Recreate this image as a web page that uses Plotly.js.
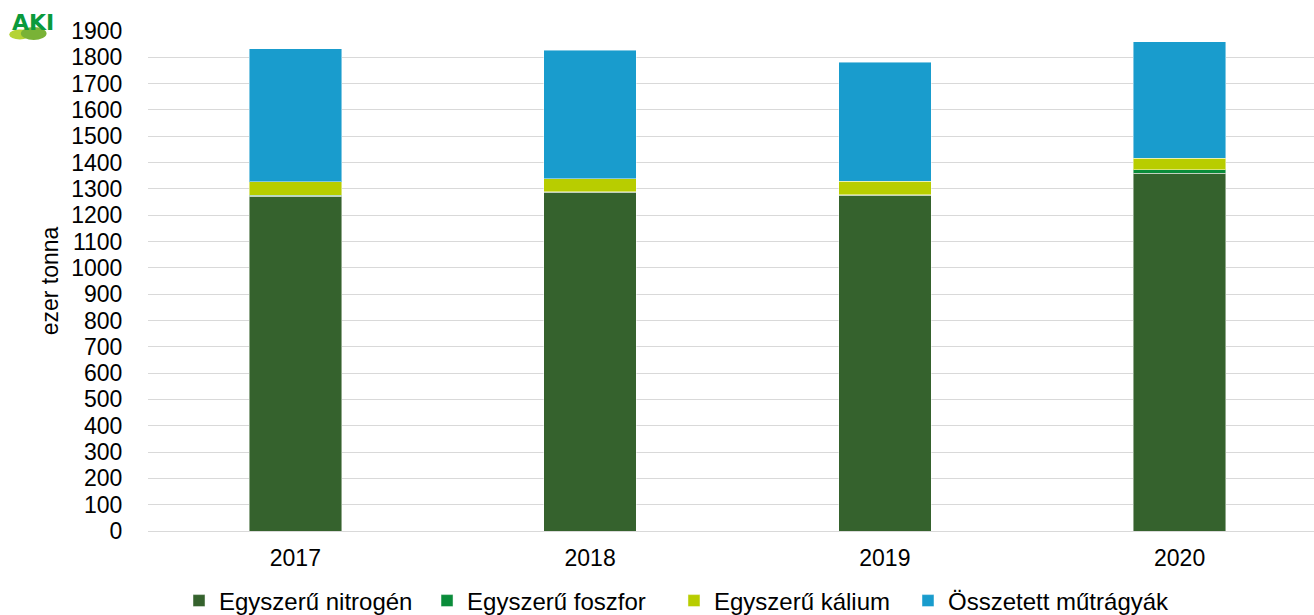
<!DOCTYPE html>
<html>
<head>
<meta charset="utf-8">
<script src="https://cdn.plot.ly/plotly-3.0.1.min.js"></script>
<style>html,body{margin:0;padding:0;background:#fff;overflow:hidden}#chart{width:1314px;height:615px}</style>
</head>
<body>
<div id="chart"></div>
<script>
const years = ['2017', '2018', '2019', '2020'];
const nitrogen = [1273, 1287, 1275, 1360];
const phosphorus = [3, 2, 3, 13];
const potassium = [52, 49, 52, 44];
const compound = [504, 489, 452, 442];
const seriesNames = ['Egyszerű nitrogén', 'Egyszerű foszfor', 'Egyszerű kálium', 'Összetett műtrágyák'];
const seriesColors = ['#35622d', '#0a8c3a', '#b8cd00', '#199ccd'];
const yTicks = [0,100,200,300,400,500,600,700,800,900,1000,1100,1200,1300,1400,1500,1600,1700,1800,1900];

const seriesValues = [nitrogen, phosphorus, potassium, compound];
const legendIds = ['legend', 'legend2', 'legend3', 'legend4'];
const legendX = [0.0266, 0.2393, 0.4511, 0.6518];

const traces = seriesValues.map((vals, i) => ({
  type: 'bar',
  x: years,
  y: vals,
  name: seriesNames[i],
  legend: legendIds[i],
  marker: {color: seriesColors[i], line: {color: 'rgba(255,255,255,0.45)', width: 1}},
  hoverinfo: 'x+y+name'
}));

const font = {family: 'Liberation Sans, Arial, sans-serif', color: '#000', size: 23};

const layout = {
  width: 1314,
  height: 615,
  margin: {l: 148, r: 0, t: 31, b: 84, autoexpand: false},
  paper_bgcolor: '#fff',
  plot_bgcolor: '#fff',
  barmode: 'stack',
  bargap: 0.686,
  font: font,
  showlegend: true,
  xaxis: {
    type: 'category',
    range: [-0.5, 3.456],
    showgrid: false,
    zeroline: false,
    showline: false,
    ticks: 'outside', ticklen: 6, tickcolor: 'rgba(0,0,0,0)',
    tickfont: {family: font.family, size: 23, color: '#000'},
    fixedrange: true
  },
  yaxis: {
    range: [0, 1900],
    tickvals: yTicks,
    ticktext: yTicks.map(String),
    showgrid: true,
    gridcolor: '#d9d9d9',
    gridwidth: 1.3,
    zeroline: true,
    zerolinecolor: '#d9d9d9',
    zerolinewidth: 1.3,
    showline: false,
    ticks: 'outside', ticklen: 20, tickcolor: 'rgba(0,0,0,0)',
    tickfont: {family: font.family, size: 23, color: '#000'},
    title: {text: 'ezer tonna', font: {family: font.family, size: 23, color: '#000'}, standoff: 6},
    automargin: false,
    fixedrange: true
  },
  annotations: [{
    xref: 'paper', yref: 'paper',
    x: -0.0986, y: 1.016, xanchor: 'center', yanchor: 'middle',
    text: '<b>AKI</b>', showarrow: false,
    font: {family: 'DejaVu Sans, sans-serif', size: 22, color: '#0a9a3c'}
  }],
  shapes: [
    {type: 'circle', xref: 'paper', yref: 'paper', x0: -0.119, x1: -0.101, y0: 0.983, y1: 1.003, fillcolor: '#b5d334', line: {width: 0}, layer: 'above'},
    {type: 'circle', xref: 'paper', yref: 'paper', x0: -0.109, x1: -0.087, y0: 0.982, y1: 1.008, fillcolor: '#79b236', line: {width: 0}, layer: 'above'}
  ]
};

legendIds.forEach((id, i) => {
  layout[id] = {
    orientation: 'h',
    x: legendX[i], xanchor: 'left',
    y: -0.14, yanchor: 'middle',
    font: {family: font.family, size: 24, color: '#000'},
    bgcolor: 'rgba(0,0,0,0)',
    itemclick: false
  };
});

Plotly.newPlot('chart', traces, layout, {displayModeBar: false, staticPlot: false, responsive: false});
</script>
</body>
</html>
